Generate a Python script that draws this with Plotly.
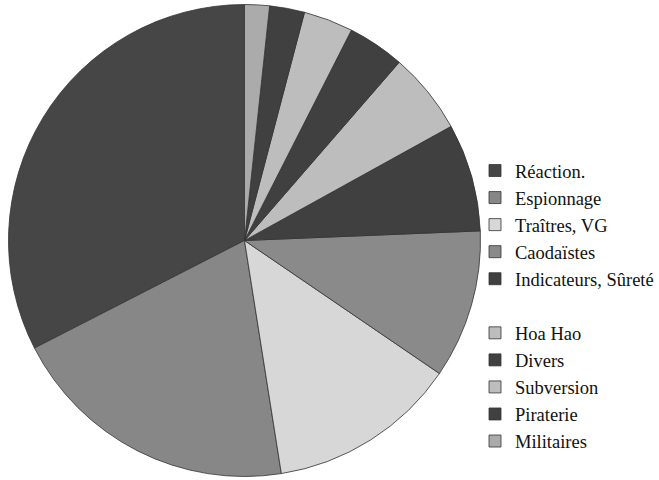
import plotly.graph_objects as go

labels = ["Réaction.", "Espionnage", "Traîtres, VG", "Caodaïstes", "Indicateurs, Sûreté",
          " ", "Hoa Hao", "Divers", "Subversion", "Piraterie", "Militaires"]
values = [32.6, 20.0, 13.0, 10.2, 7.4, 0, 5.6, 3.9, 3.4, 2.4, 1.7]
colors = ["#464646", "#878787", "#d7d7d7", "#8a8a8a", "#404040",
          "rgba(0,0,0,0)", "#bdbdbd", "#404040", "#bdbdbd", "#404040", "#ababab"]
line_colors = ["#333333"] * len(labels)
line_colors[5] = "rgba(0,0,0,0)"
line_widths = [0.8] * len(labels)
line_widths[5] = 0

# first slice ends at 12 o'clock, the rest run counterclockwise
first_angle = -values[0] / sum(values) * 360

fig = go.Figure(go.Pie(
    labels=labels,
    values=values,
    sort=False,
    direction="counterclockwise",
    rotation=first_angle,
    marker=dict(colors=colors, line=dict(color=line_colors, width=line_widths)),
    textinfo="none",
    hoverinfo="label+percent",
    domain=dict(x=[8.5 / 659, 480.5 / 659], y=[3.5 / 480, 475.5 / 480]),
))

fig.update_layout(
    width=659, height=480,
    margin=dict(l=0, r=0, t=0, b=0, autoexpand=False),
    paper_bgcolor="white",
    plot_bgcolor="white",
    showlegend=True,
    legend=dict(
        x=1, y=1 - 152 / 480, xanchor="right", yanchor="top",
        font=dict(family="Liberation Serif", size=18.5, color="#111111"),
        bgcolor="rgba(0,0,0,0)",
        itemclick=False,
    ),
)

fig.write_html("out.html", config={"displayModeBar": False},
               post_script="document.body.style.margin='0';")
